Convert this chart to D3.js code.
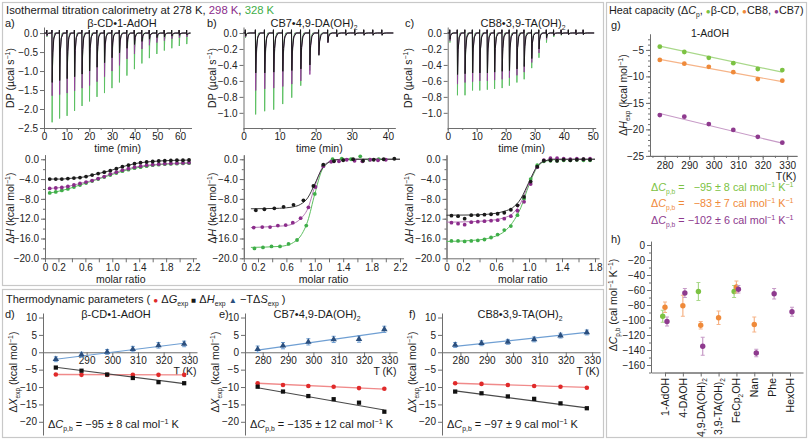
<!DOCTYPE html>
<html><head><meta charset="utf-8">
<script src="https://cdn.jsdelivr.net/npm/d3@7"></script>
<style>
body{margin:0;background:#fff;}
svg{font-family:"Liberation Sans",Arial,Helvetica,sans-serif;}
</style></head><body>
<svg id="c" width="809" height="440"></svg>
<script>
// ================= DATA =================
// --- ITC thermograms (DP, µcal/s): injection times (min) and peak depths
const aTimes = [1.2, 3.5, 6.8, 10.1, 13.4, 16.7, 20.0, 23.3, 26.6, 29.9, 33.2, 36.5, 39.8, 43.1, 46.4, 49.7, 53.0, 56.3, 59.6, 62.9];
const aDP328 = [-0.10, -2.35, -2.25, -2.18, -2.05, -1.92, -1.80, -1.68, -1.58, -1.45, -1.30, -1.12, -0.95, -0.80, -0.66, -0.55, -0.46, -0.40, -0.34, -0.29];
const aDP298 = [-0.08, -1.65, -1.62, -1.58, -1.52, -1.45, -1.38, -1.28, -1.15, -1.00, -0.85, -0.68, -0.55, -0.42, -0.32, -0.25, -0.20, -0.15, -0.12, -0.10];
const aDP278 = [-0.06, -1.30, -1.25, -1.20, -1.15, -1.08, -1.00, -0.90, -0.78, -0.65, -0.52, -0.40, -0.30, -0.22, -0.16, -0.12, -0.10, -0.08, -0.06, -0.05];

const bTimes = [0.5, 3.3, 5.8, 8.3, 10.8, 13.3, 15.8, 18.3, 20.8, 23.3, 25.8, 28.3, 30.8, 33.3, 35.8, 38.3];
const bDP328 = [-0.06, -1.02, -0.98, -0.96, -0.89, -0.81, -0.66, -0.47, -0.22, -0.09, -0.03, -0.02, -0.02, -0.02, -0.02, -0.02];
const bDP298 = [-0.05, -0.72, -0.70, -0.69, -0.67, -0.64, -0.60, -0.52, -0.27, -0.12, -0.04, -0.02, -0.02, -0.02, -0.02, -0.02];
const bDP278 = [-0.04, -0.50, -0.50, -0.49, -0.48, -0.47, -0.45, -0.40, -0.28, -0.12, -0.05, -0.03, -0.03, -0.03, -0.03, -0.03];

const cTimes = [0.7, 3.3, 5.9, 8.5, 11.0, 13.6, 16.1, 18.7, 21.2, 23.8, 26.3, 28.9, 31.4, 34.0, 36.5, 39.1, 41.6, 44.2, 46.7];
const cDP328 = [-0.12, -0.78, -0.78, -0.72, -0.72, -0.71, -0.70, -0.69, -0.66, -0.62, -0.58, -0.44, -0.31, -0.12, -0.05, -0.03, -0.02, -0.02, -0.02];
const cDP298 = [-0.10, -0.64, -0.62, -0.61, -0.60, -0.60, -0.59, -0.58, -0.56, -0.53, -0.49, -0.37, -0.25, -0.08, -0.03, -0.02, -0.02, -0.02, -0.02];
const cDP278 = [-0.08, -0.52, -0.51, -0.50, -0.50, -0.50, -0.49, -0.48, -0.47, -0.45, -0.42, -0.32, -0.20, -0.06, -0.03, -0.02, -0.02, -0.02, -0.02];

// --- ITC isotherms (ΔH kcal/mol vs molar ratio)
const aRatio = [0.07, 0.16, 0.25, 0.34, 0.43, 0.52, 0.61, 0.70, 0.79, 0.88, 0.97, 1.06, 1.15, 1.24, 1.33, 1.42, 1.51, 1.60, 1.69, 1.78, 1.87, 1.96, 2.05, 2.14];
const aH278 = [-4.0, -4.0, -4.0, -3.9, -3.8, -3.7, -3.5, -3.2, -2.9, -2.6, -2.3, -1.9, -1.5, -1.2, -0.9, -0.7, -0.55, -0.45, -0.35, -0.3, -0.25, -0.2, -0.2, -0.15];
const aH298 = [-5.9, -5.8, -5.7, -5.5, -5.2, -4.9, -4.6, -4.3, -3.9, -3.5, -3.0, -2.6, -2.2, -1.9, -1.6, -1.4, -1.2, -1.1, -1.0, -0.9, -0.85, -0.8, -0.75, -0.7];
const aH328 = [-6.8, -6.6, -6.3, -6.0, -5.6, -5.2, -4.8, -4.4, -4.0, -3.6, -3.2, -2.8, -2.4, -2.1, -1.8, -1.6, -1.4, -1.2, -1.1, -1.0, -0.95, -0.9, -0.85, -0.8];

const bRatio278 = [0.17, 0.29, 0.43, 0.56, 0.70, 0.84, 0.98, 1.12, 1.27, 1.40, 1.54, 1.68, 1.83, 1.97, 2.12];
const bH278 = [-10.3, -10.1, -9.9, -9.6, -9.2, -8.3, -5.4, -1.1, -0.4, -0.2, 0.0, -0.3, -0.1, 0.0, 0.1];
const bRatio298 = [0.14, 0.26, 0.37, 0.48, 0.59, 0.69, 0.80, 0.91, 1.01, 1.12, 1.23, 1.34, 1.45, 1.56, 1.67, 1.78, 1.89, 2.00];
const bH298 = [-13.8, -13.7, -13.7, -13.4, -13.3, -12.8, -11.9, -9.7, -5.6, -1.4, -0.5, -0.4, -0.1, -0.3, -0.4, -0.1, -0.2, -0.1];
const bRatio328 = [0.15, 0.27, 0.39, 0.51, 0.63, 0.75, 0.88, 1.00, 1.12, 1.25, 1.38, 1.51, 1.64, 1.77, 1.90];
const bH328 = [-18.0, -17.8, -17.6, -17.6, -17.1, -16.3, -13.4, -7.0, -1.3, 0.0, 0.1, 0.0, 0.6, -0.1, 0.0];
const bFitRatio = [0.1, 0.5, 0.6, 0.7, 0.8, 0.9, 1.0, 1.1, 1.2, 1.3, 1.4, 2.2];
const bFit278 = [-10.0, -9.9, -9.8, -9.6, -9.1, -7.8, -5.0, -2.0, -0.6, -0.1, 0.0, 0.0];
const bFit298 = [-13.8, -13.5, -13.4, -13.0, -12.0, -10.0, -5.5, -1.8, -0.5, -0.1, 0.0, 0.0];
const bFit328 = [-17.8, -17.6, -17.4, -16.8, -15.5, -12.5, -7.0, -2.2, -0.5, -0.1, 0.0, 0.0];

const cRatio = [0.06, 0.14, 0.22, 0.30, 0.38, 0.46, 0.54, 0.62, 0.70, 0.78, 0.86, 0.94, 1.02, 1.10, 1.18, 1.26, 1.34, 1.42, 1.50, 1.58, 1.66, 1.74];
const cH278 = [-11.4, -11.5, -12.0, -11.3, -11.3, -11.2, -11.1, -11.0, -10.8, -10.2, -9.3, -7.6, -4.5, -1.5, -0.3, -0.2, -0.3, -0.1, -0.2, -0.1, 0.0, -0.1];
const cH298 = [-12.8, -13.0, -13.2, -12.7, -12.6, -12.5, -12.4, -12.3, -12.0, -11.5, -10.4, -8.6, -5.0, -1.6, -0.2, 0.2, 0.2, 0.1, 0.0, 0.1, 0.0, 0.1];
const cH328 = [-16.5, -16.5, -16.6, -16.5, -16.4, -16.2, -15.8, -15.2, -14.3, -13.5, -11.3, -8.0, -4.0, -1.2, -0.4, -0.3, -0.3, -0.2, -0.2, -0.1, -0.2, -0.2];
const cFitRatio = [0.0, 0.3, 0.5, 0.6, 0.7, 0.8, 0.9, 1.0, 1.1, 1.2, 1.3, 1.8];
const cFit278 = [-11.3, -11.25, -11.1, -10.9, -10.5, -9.8, -8.0, -4.6, -1.4, -0.3, 0.0, 0.0];
const cFit298 = [-12.7, -12.6, -12.4, -12.2, -11.8, -11.0, -8.8, -4.8, -1.4, -0.3, 0.0, 0.0];
const cFit328 = [-16.6, -16.4, -16.0, -15.5, -14.6, -12.8, -9.8, -5.2, -1.6, -0.4, -0.1, 0.0];

// --- Thermodynamic parameters vs T
const T = [278, 288, 298, 308, 318, 328];
const fitT = [278, 328];
const dG_d = [-6.4, -6.5, -6.5, -6.5, -6.5, -6.5];
const dH_d = [-4.4, -5.3, -6.4, -7.4, -8.6, -8.9];
const mTdS_d = [-2.0, -0.7, 0.1, 0.9, 2.0, 2.4];
const mTdSerr_d = [0.7, 0.7, 0.7, 0.8, 0.8, 0.8];
const dGfit_d = [-6.4, -6.5], dHfit_d = [-4.3, -9.0], mTdSfit_d = [-2.0, 2.6];
const dG_e = [-8.9, -9.4, -9.7, -9.9, -10.3, -10.5];
const dH_e = [-9.9, -11.3, -12.6, -13.5, -14.5, -17.1];
const mTdS_e = [0.9, 1.9, 3.0, 3.7, 3.8, 6.6];
const mTdSerr_e = [0.9, 0.9, 0.9, 0.9, 0.9, 0.9];
const dGfit_e = [-8.9, -10.6], dHfit_e = [-10.2, -16.6], mTdSfit_e = [0.6, 5.8];
const dG_f = [-8.9, -9.1, -9.4, -9.7, -9.9, -10.2];
const dH_f = [-11.3, -11.8, -12.7, -13.4, -14.7, -16.1];
const mTdS_f = [2.1, 2.6, 3.0, 3.7, 4.8, 5.7];
const mTdSerr_f = [0.7, 0.7, 0.7, 0.7, 0.7, 0.7];
const dGfit_f = [-8.9, -10.1], dHfit_f = [-11.1, -16.0], mTdSfit_f = [1.7, 5.7];

// --- Heat capacity panel g (ΔH_exp vs T for 1-AdOH)
const gBCD = [-4.4, -5.4, -6.5, -7.5, -8.6, -8.8];
const gCB8 = [-6.9, -7.6, -8.2, -9.2, -10.5, -10.8];
const gCB7 = [-17.3, -17.6, -19.0, -20.1, -21.4, -22.5];
const gFitBCD = [-4.3, -9.2], gFitCB8 = [-6.8, -11.0], gFitCB7 = [-17.0, -22.6];
const gLegend = ['−95 ± 8', '−83 ± 7', '−102 ± 6'];

// --- panel h ΔCp,b by guest
const hCats = ["1-AdOH", "4-DAOH", "4,9-DA(OH)2", "3,9-TA(OH)2", "FeCp2OH", "Nan", "Phe", "HexOH"];
const hBCD = [["1-AdOH", -95, 8], ["4,9-DA(OH)2", -62, 12], ["FeCp2OH", -62, 8]];
const hCB8 = [["1-AdOH", -83, 7], ["4-DAOH", -81, 14], ["4,9-DA(OH)2", -107, 5], ["3,9-TA(OH)2", -97, 9], ["FeCp2OH", -56, 8], ["Nan", -106, 10]];
const hCB7 = [["1-AdOH", -102, 6], ["4-DAOH", -64, 6], ["4,9-DA(OH)2", -135, 12], ["FeCp2OH", -59, 5], ["Nan", -144, 5], ["Phe", -65, 7], ["HexOH", -89, 6]];

// ================= DRAWING =================
const svg = d3.select('#c');
const FONT = '"Liberation Sans", Arial, Helvetica, sans-serif';
const AX = '#6e6e6e';
const TICKFS = 10;
const COL = {
  k: '#1a1a1a', p: '#8b2c8b', g: '#3fae49',
  kFit: '#3a3a3a', pFit: '#b67ab6', gFit: '#5cbf5f',
  dpG: '#5cc062', dpP: '#94449a', dpK: '#1a1a1a',
  bcd: '#7cc243', cb8: '#ef8a3a', cb7: '#8e3a8e',
  bcdL: '#a9d88a', cb8L: '#f6b488', cb7L: '#c79bc7',
  red: '#e02a2a', redL: '#f08a8a', blue: '#2b4f7e', blueL: '#6f9fd3'
};

function parseMk(s) {
  const re = /([_^*~])\{([^}]*)\}/g; const parts = []; let last = 0, m;
  while ((m = re.exec(s))) {
    if (m.index > last) parts.push([s.slice(last, m.index), 'n']);
    parts.push([m[2], m[1] === '_' ? 'sub' : m[1] === '^' ? 'sup' : m[1] === '~' ? 'sym' : 'i']);
    last = re.lastIndex;
  }
  if (last < s.length) parts.push([s.slice(last), 'n']);
  return parts;
}
function rich(x, y, segs, o = {}) {
  const size = o.size || 11;
  const t = svg.append('text').attr('x', x).attr('y', y).attr('font-size', size)
    .attr('fill', o.fill || '#1a1a1a').attr('text-anchor', o.anchor || 'start')
    .attr('font-family', FONT).style('white-space', 'pre');
  if (o.rotate) t.attr('transform', `rotate(${o.rotate},${x},${y})`);
  if (typeof segs === 'string') segs = [{ t: segs }];
  let cur = 0;
  segs.forEach(seg => {
    parseMk(seg.t).forEach(([s, type]) => {
      const ts = t.append('tspan').text(s);
      let target = 0, fs = null;
      if (type === 'sub') { target = size * 0.28; fs = size * 0.62; }
      if (type === 'sup') { target = -size * 0.38; fs = size * 0.66; }
      if (type === 'sym') { fs = size * 0.75; }
      if (target - cur !== 0) ts.attr('dy', target - cur);
      cur = target;
      if (fs) ts.attr('font-size', fs);
      if (type === 'i') ts.attr('font-style', 'italic');
      if (seg.c) ts.attr('fill', seg.c);
    });
  });
  return t;
}
function styleAx(g, fs) {
  g.selectAll('path,line').attr('stroke', AX).attr('stroke-width', 1);
  g.selectAll('text').attr('font-size', fs || TICKFS).attr('fill', '#222').attr('font-family', FONT);
  return g;
}
function leftAxis(x, scale, major, fmt, minor, fs) {
  if (minor) styleAx(svg.append('g').attr('transform', `translate(${x},0)`)
    .call(d3.axisLeft(scale).tickValues(minor).tickFormat('').tickSize(2).tickSizeOuter(0)));
  return styleAx(svg.append('g').attr('transform', `translate(${x},0)`)
    .call(d3.axisLeft(scale).tickValues(major).tickFormat(fmt).tickSize(4).tickSizeOuter(0).tickPadding(2)), fs);
}
function bottomAxis(y, scale, major, fmt, minor, fs, pad) {
  if (minor) styleAx(svg.append('g').attr('transform', `translate(0,${y})`)
    .call(d3.axisBottom(scale).tickValues(minor).tickFormat('').tickSize(2).tickSizeOuter(0)));
  return styleAx(svg.append('g').attr('transform', `translate(0,${y})`)
    .call(d3.axisBottom(scale).tickValues(major).tickFormat(fmt).tickSize(4).tickSizeOuter(0).tickPadding(pad == null ? 1 : pad)), fs);
}
const f1 = d3.format('.1f');
const fInt = d3.format('d');

// ---------- boxes ----------
[[2.5, 2.5, 601, 283], [2.5, 289.5, 601, 148], [606.5, 2.5, 200, 435]].forEach(b =>
  svg.append('rect').attr('x', b[0]).attr('y', b[1]).attr('width', b[2]).attr('height', b[3])
    .attr('fill', 'none').attr('stroke', '#c8c8c8').attr('stroke-width', 1.2));

// ---------- ITC section ----------
rich(6, 14, [{ t: 'Isothermal titration calorimetry at 278 K, ' }, { t: '298 K', c: COL.p }, { t: ', ' }, { t: '328 K', c: COL.g }], { size: 11.3 });

const dpPanels = [
  { x0: 44, tmax: 65, pxPerMin: 2.267, y: [0.16, -2.5], ticks: [0, -0.5, -1, -1.5, -2, -2.5], up: 0.08,
    tTicks: [0, 10, 20, 30, 40, 50, 60], label: 'a)', lx: 5, dpx: 14, title: 'β-CD•1-AdOH', tx: 122,
    times: aTimes, s: [aDP328, aDP298, aDP278], w: 0.85 },
  { x0: 243.5, tmax: 42, pxPerMin: 3.61, y: [0.075, -1.19], ticks: [0, -0.2, -0.4, -0.6, -0.8, -1.0], up: 0.04,
    tTicks: [0, 10, 20, 30, 40], label: 'b)', lx: 207, dpx: 216, title: 'CB7•4,9-DA(OH)_{2}', tx: 314,
    times: bTimes, s: [bDP328, bDP298, bDP278], w: 0.65 },
  { x0: 447.7, tmax: 51, pxPerMin: 2.9, y: [0.075, -1.19], ticks: [0, -0.2, -0.4, -0.6, -0.8, -1.0], up: 0.04,
    tTicks: [0, 10, 20, 30, 40, 50], label: 'c)', lx: 405, dpx: 412, title: 'CB8•3,9-TA(OH)_{2}', tx: 523,
    times: cTimes, s: [cDP328, cDP298, cDP278], w: 0.7 }
];
dpPanels.forEach(P => {
  const xs = d3.scaleLinear().domain([0, P.tmax]).range([P.x0, P.x0 + P.tmax * P.pxPerMin]);
  const ys = d3.scaleLinear().domain(P.y).range([27, 128]);
  leftAxis(P.x0, ys, P.ticks, f1);
  bottomAxis(128, xs, P.tTicks, fInt, d3.range(0, P.tmax, 5));
  rich(P.lx, 27, P.label, { size: 11 });
  rich(P.tx, 27, P.title, { size: 11, anchor: 'middle' });
  rich(P.dpx, 78, 'DP (µcal s^{−1})', { size: 10.5, rotate: -90, anchor: 'middle' });
  rich((xs.range()[0] + xs.range()[1]) / 2, 152, 'time (min)', { size: 10.5, anchor: 'middle' });
  const line = d3.line().x(d => xs(d[0])).y(d => ys(d[1]));
  const cols = [COL.dpG, COL.dpP, COL.dpK];
  const widths = [P.w * 0.8, P.w * 1.0, P.w * 1.2];
  P.s.forEach((depths, k) => {
    const w = widths[k];
    const pts = [[0, 0]];
    P.times.forEach((t, i) => {
      const d = depths[i];
      pts.push([t - 0.05, 0], [t, P.up], [t + 0.12 * w, d], [t + 0.35 * w, d * 0.4], [t + 0.85 * w, d * 0.1], [t + 1.7 * w, 0]);
    });
    pts.push([P.tmax - 0.5, 0]);
    svg.append('path').attr('d', line(pts)).attr('fill', 'none').attr('stroke', cols[k])
      .attr('stroke-width', 1).attr('stroke-linejoin', 'round');
  });
});

// isotherms
const isoPanels = [
  { x0: 45, pxPerUnit: 67.3, xmax: 2.25, ticks: d3.range(0, 2.21, 0.2), labels: [0, 0.2, 0.6, 1.0, 1.4, 1.8, 2.2], dhx: 14,
    series: [
      { x: aRatio, y: aH328, c: COL.g, fc: COL.gFit },
      { x: aRatio, y: aH298, c: COL.p, fc: COL.pFit },
      { x: aRatio, y: aH278, c: COL.k, fc: COL.kFit }] },
  { x0: 243.8, pxPerUnit: 71, xmax: 2.25, ticks: d3.range(0, 2.21, 0.2), labels: [0, 0.2, 0.6, 1.0, 1.4, 1.8, 2.2], dhx: 216,
    series: [
      { x: bRatio328, y: bH328, c: COL.g, fc: COL.gFit, fx: bFitRatio, fy: bFit328 },
      { x: bRatio298, y: bH298, c: COL.p, fc: COL.pFit, fx: bFitRatio, fy: bFit298 },
      { x: bRatio278, y: bH278, c: COL.k, fc: COL.kFit, fx: bFitRatio, fy: bFit278 }] },
  { x0: 446.5, pxPerUnit: 82.5, xmax: 1.85, ticks: d3.range(0, 1.81, 0.2), labels: [0, 0.2, 0.6, 1.0, 1.4, 1.8], dhx: 413,
    series: [
      { x: cRatio, y: cH328, c: COL.g, fc: COL.gFit, fx: cFitRatio, fy: cFit328 },
      { x: cRatio, y: cH298, c: COL.p, fc: COL.pFit, fx: cFitRatio, fy: cFit298 },
      { x: cRatio, y: cH278, c: COL.k, fc: COL.kFit, fx: cFitRatio, fy: cFit278 }] }
];
isoPanels.forEach(P => {
  const xs = d3.scaleLinear().domain([0, P.xmax]).range([P.x0, P.x0 + P.xmax * P.pxPerUnit]);
  const ys = d3.scaleLinear().domain([0.9, -20]).range([154.8, 258.3]);
  leftAxis(P.x0, ys, [0, -4, -8, -12, -16, -20], f1, d3.range(0, -20.1, -2));
  const lab = new Set(P.labels.map(v => v.toFixed(1)));
  bottomAxis(258.3, xs, P.ticks, d => lab.has(d.toFixed(1)) ? (Math.abs(d) < 1e-9 ? '0' : f1(d)) : '', null, TICKFS, 2);
  rich(P.dhx, 208, 'Δ*{H} (kcal mol^{−1})', { size: 10.5, rotate: -90, anchor: 'middle' });
  rich((xs.range()[0] + xs.range()[1]) / 2, 282.5, 'molar ratio', { size: 10.5, anchor: 'middle' });
  P.series.forEach(s => {
    const fx = s.fx || s.x, fy = s.fy || s.y;
    const line = d3.line().x((d, i) => xs(fx[i])).y(d => ys(d)).curve(d3.curveMonotoneX);
    svg.append('path').attr('d', line(fy)).attr('fill', 'none').attr('stroke', s.fc).attr('stroke-width', 1);
  });
  P.series.forEach(s => {
    svg.append('g').selectAll('circle').data(s.y).join('circle')
      .attr('cx', (d, i) => xs(s.x[i])).attr('cy', d => ys(d)).attr('r', 1.9).attr('fill', s.c);
  });
});

// ---------- Thermodynamic parameters ----------
rich(6, 303, [{ t: 'Thermodynamic parameters ( ' }, { t: '~{●}', c: COL.red }, { t: ' Δ*{G}_{exp} ' }, { t: '~{■}', c: COL.k },
  { t: ' Δ*{H}_{exp} ' }, { t: '~{▲}', c: COL.blue }, { t: ' −TΔ*{S}_{exp} )' }], { size: 11 });

const thermoPanels = [
  { x0: 43, x1: 197, label: 'd)', lx: 5, title: 'β-CD•1-AdOH', tx: 116, xTicks: [290, 300, 310, 320, 330],
    dG: dG_d, dH: dH_d, ts: mTdS_d, te: mTdSerr_d, fG: dGfit_d, fH: dHfit_d, fS: mTdSfit_d, cp: '−95 ± 8' },
  { x0: 245, x1: 397, label: 'e)', lx: 219, title: 'CB7•4,9-DA(OH)_{2}', tx: 317, xTicks: [280, 290, 300, 310, 320, 330],
    dG: dG_e, dH: dH_e, ts: mTdS_e, te: mTdSerr_e, fG: dGfit_e, fH: dHfit_e, fS: mTdSfit_e, cp: '−135 ± 12' },
  { x0: 442, x1: 600, label: 'f)', lx: 409, title: 'CB8•3,9-TA(OH)_{2}', tx: 520, xTicks: [280, 290, 300, 310, 320, 330],
    dG: dG_f, dH: dH_f, ts: mTdS_f, te: mTdSerr_f, fG: dGfit_f, fH: dHfit_f, fS: mTdSfit_f, cp: '−97 ± 9' }
];
thermoPanels.forEach(P => {
  const xs = d3.scaleLinear().domain([273, 333]).range([P.x0, P.x1]);
  const ys = d3.scaleLinear().domain([11.3, -23.8]).range([313, 435]);
  leftAxis(P.x0, ys, [10, 5, 0, -5, -10, -15, -20], fInt);
  bottomAxis(ys(0), xs, P.xTicks, fInt, null, TICKFS, 1);
  rich(P.lx, 318, P.label, { size: 11 });
  rich(P.tx, 318, P.title, { size: 11, anchor: 'middle' });
  rich(P.x0 - 26, 372, 'Δ*{X}_{exp} (kcal mol^{−1})', { size: 10.5, rotate: -90, anchor: 'middle' });
  rich(P.x1 - 12, 375, 'T (K)', { size: 10.5, anchor: 'middle' });
  rich(P.x0 + 5, 428, [{ t: 'Δ*{C}_{p,b} = ' + P.cp + ' cal mol^{−1} K' }], { size: 11 });
  const L = (arr, col, w) => svg.append('path')
    .attr('d', d3.line().x((d, i) => xs(fitT[i])).y(d => ys(d))(arr))
    .attr('fill', 'none').attr('stroke', col).attr('stroke-width', w || 1.2);
  L(P.fS, COL.blueL); L(P.fG, COL.redL, 1.4); L(P.fH, '#4a4a4a');
  const eb = svg.append('g').attr('stroke', COL.blueL).attr('stroke-width', 1);
  P.ts.forEach((v, i) => {
    const x = xs(T[i]);
    eb.append('line').attr('x1', x).attr('x2', x).attr('y1', ys(v + P.te[i])).attr('y2', ys(v - P.te[i]));
    eb.append('line').attr('x1', x - 2).attr('x2', x + 2).attr('y1', ys(v + P.te[i])).attr('y2', ys(v + P.te[i]));
    eb.append('line').attr('x1', x - 2).attr('x2', x + 2).attr('y1', ys(v - P.te[i])).attr('y2', ys(v - P.te[i]));
  });
  svg.append('g').selectAll('path').data(P.ts).join('path')
    .attr('d', d3.symbol(d3.symbolTriangle).size(18)).attr('fill', COL.blue)
    .attr('transform', (d, i) => `translate(${xs(T[i])},${ys(d)})`);
  svg.append('g').selectAll('circle').data(P.dG).join('circle')
    .attr('cx', (d, i) => xs(T[i])).attr('cy', d => ys(d)).attr('r', 2.3).attr('fill', COL.red);
  svg.append('g').selectAll('path').data(P.dH).join('path')
    .attr('d', d3.symbol(d3.symbolSquare).size(18)).attr('fill', '#111')
    .attr('transform', (d, i) => `translate(${xs(T[i])},${ys(d)})`);
});

// ---------- Heat capacity: g ----------
rich(609, 14, [{ t: 'Heat capacity (Δ*{C}_{p}, ' }, { t: '~{●}', c: COL.bcd }, { t: 'β-CD, ' }, { t: '~{●}', c: COL.cb8 },
  { t: 'CB8, ' }, { t: '~{●}', c: COL.cb7 }, { t: 'CB7)' }], { size: 10.8 });
rich(611, 29, 'g)', { size: 11 });
rich(710, 37, '1-AdOH', { size: 10.5, anchor: 'middle' });
{
  const xs = d3.scaleLinear().domain([274, 334]).range([650, 797]);
  const ys = d3.scaleLinear().domain([-2, -25]).range([34, 155.9]);
  leftAxis(650, ys, [-5, -10, -15, -20, -25], fInt, d3.range(-3, -25.1, -1));
  bottomAxis(155.9, xs, [280, 290, 300, 310, 320, 330], fInt, d3.range(275, 334, 5), TICKFS, 2);
  rich(786, 180, 'T(K)', { size: 10.5, anchor: 'middle' });
  rich(627, 95, 'Δ*{H}_{exp} (kcal mol^{−1})', { size: 10.5, rotate: -90, anchor: 'middle' });
  [[gBCD, gFitBCD, COL.bcd, COL.bcdL], [gCB8, gFitCB8, COL.cb8, COL.cb8L], [gCB7, gFitCB7, COL.cb7, COL.cb7L]].forEach(([vals, fit, c, cl]) => {
    svg.append('path').attr('d', d3.line().x((d, i) => xs(fitT[i])).y(d => ys(d))(fit))
      .attr('fill', 'none').attr('stroke', cl).attr('stroke-width', 1.2);
    svg.append('g').selectAll('circle').data(vals).join('circle')
      .attr('cx', (d, i) => xs(T[i])).attr('cy', d => ys(d)).attr('r', 2.4).attr('fill', c);
  });
  const lgCols = [COL.bcd, COL.cb8, COL.cb7];
  const lgGap = ['   ', '   ', ' '];
  [191, 207, 224].forEach((y, i) => {
    rich(651, y, [{ t: 'Δ*{C}_{p,b} =' + lgGap[i] + gLegend[i] + ' cal mol^{−1} K^{−1}', c: lgCols[i] }], { size: 10.8 });
  });
}

// ---------- h ----------
rich(611, 243, 'h)', { size: 11 });
{
  const xs = d3.scalePoint().domain(hCats).range([665, 790]);
  const ys = d3.scaleLinear().domain([5, -170]).range([241.25, 372.5]);
  leftAxis(651, ys, [0, -20, -40, -60, -80, -100, -120, -140, -160], fInt, d3.range(0, -170.1, -10));
  const xa = d3.scaleLinear().domain([0, 1]).range([651, 803]);
  styleAx(svg.append('g').attr('transform', 'translate(0,372.5)').call(d3.axisBottom(xa).tickValues([]).tickSizeOuter(0)));
  styleAx(svg.append('g').attr('transform', 'translate(0,372.5)').call(d3.axisBottom(xs).tickFormat('').tickSize(4).tickSizeOuter(0)));
  hCats.forEach(c => {
    const mk = c.replace(/\)2/, ')_{2}').replace(/Cp2/, 'Cp_{2}');
    rich(xs(c) + 3.8, 378, mk, { size: 10.5, rotate: -90, anchor: 'end' });
  });
  rich(617, 305, 'Δ*{C}_{p,b} (cal mol^{−1} K^{−1})', { size: 10.5, rotate: -90, anchor: 'middle' });
  [[hBCD, -2.3, COL.bcd, COL.bcdL], [hCB8, 0, COL.cb8, COL.cb8L], [hCB7, 2, COL.cb7, COL.cb7L]].forEach(([arr, off, c, cl]) => {
    const g = svg.append('g');
    arr.forEach(([cat, v, e]) => {
      const x = xs(cat) + off;
      g.append('line').attr('x1', x).attr('x2', x).attr('y1', ys(v + e)).attr('y2', ys(v - e)).attr('stroke', cl).attr('stroke-width', 1.2);
      g.append('line').attr('x1', x - 2).attr('x2', x + 2).attr('y1', ys(v + e)).attr('y2', ys(v + e)).attr('stroke', cl);
      g.append('line').attr('x1', x - 2).attr('x2', x + 2).attr('y1', ys(v - e)).attr('y2', ys(v - e)).attr('stroke', cl);
      g.append('circle').attr('cx', x).attr('cy', ys(v)).attr('r', 2.7).attr('fill', c);
    });
  });
}
</script></body></html>
